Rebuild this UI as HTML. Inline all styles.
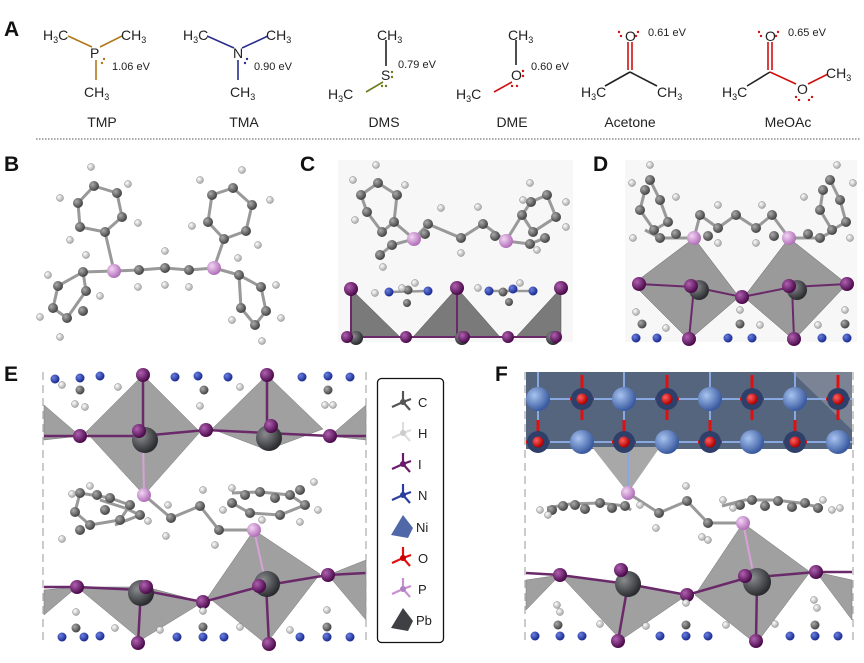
<!DOCTYPE html>
<html><head><meta charset="utf-8"><style>
html,body{margin:0;padding:0;background:#fff}
svg{display:block}
.t{font-family:"Liberation Sans",sans-serif;font-size:14px;fill:#222}
.s{font-family:"Liberation Sans",sans-serif;font-size:11px;fill:#222}
.L{font-family:"Liberation Sans",sans-serif;font-size:21px;font-weight:bold;fill:#111}
.lg{font-family:"Liberation Sans",sans-serif;font-size:13px;fill:#222}
</style></head><body>
<svg width="864" height="663" viewBox="0 0 864 663" xmlns="http://www.w3.org/2000/svg">
<defs>
<radialGradient id="gI" cx="35%" cy="35%" r="65%"><stop offset="0" stop-color="#b060b0"/><stop offset="1" stop-color="#4a0a4a"/></radialGradient>
<radialGradient id="gPb" cx="35%" cy="35%" r="65%"><stop offset="0" stop-color="#8a8c90"/><stop offset="1" stop-color="#2a2c30"/></radialGradient>
<radialGradient id="gC" cx="35%" cy="35%" r="65%"><stop offset="0" stop-color="#aaa"/><stop offset="1" stop-color="#444"/></radialGradient>
<radialGradient id="gH" cx="35%" cy="35%" r="65%"><stop offset="0" stop-color="#fff"/><stop offset="1" stop-color="#aaa"/></radialGradient>
<radialGradient id="gN" cx="35%" cy="35%" r="65%"><stop offset="0" stop-color="#6a80e0"/><stop offset="1" stop-color="#1a2a90"/></radialGradient>
<radialGradient id="gP" cx="35%" cy="35%" r="65%"><stop offset="0" stop-color="#f4d4f4"/><stop offset="1" stop-color="#b070b8"/></radialGradient>
<radialGradient id="gNi" cx="35%" cy="35%" r="65%"><stop offset="0" stop-color="#a8c4f0"/><stop offset="1" stop-color="#3a5aa0"/></radialGradient>
<radialGradient id="gO" cx="35%" cy="35%" r="65%"><stop offset="0" stop-color="#ff6060"/><stop offset="1" stop-color="#b00000"/></radialGradient>
</defs>

<!-- ===== Panel A ===== -->
<text class="L" x="4" y="36">A</text>
<g stroke-width="1.6" fill="none">
 <line x1="68" y1="36" x2="92" y2="47" stroke="#b07818"/><line x1="100" y1="47" x2="122" y2="36" stroke="#b07818"/><line x1="96" y1="60" x2="96" y2="80" stroke="#b07818"/>
 <line x1="207" y1="36" x2="234" y2="48" stroke="#2a2f8a"/><line x1="242" y1="48" x2="268" y2="36" stroke="#2a2f8a"/><line x1="238" y1="60" x2="238" y2="80" stroke="#2a2f8a"/>
 <line x1="386" y1="40" x2="386" y2="66" stroke="#222"/><line x1="383" y1="82" x2="366" y2="92" stroke="#6a7a18"/>
 <line x1="516" y1="40" x2="516" y2="65" stroke="#222"/><line x1="512" y1="82" x2="494" y2="92" stroke="#d01010"/>
 <line x1="628" y1="42" x2="628" y2="70" stroke="#d01010"/><line x1="632" y1="42" x2="632" y2="70" stroke="#d01010"/><line x1="630" y1="72" x2="605" y2="86" stroke="#222"/><line x1="630" y1="72" x2="657" y2="86" stroke="#222"/>
 <line x1="768" y1="42" x2="768" y2="70" stroke="#d01010"/><line x1="772" y1="42" x2="772" y2="70" stroke="#d01010"/><line x1="770" y1="72" x2="747" y2="86" stroke="#222"/><line x1="770" y1="72" x2="796" y2="84" stroke="#d01010"/><line x1="808" y1="84" x2="828" y2="74" stroke="#d01010"/>
</g>
<text class="t" x="43" y="40">H<tspan font-size="9" dy="3">3</tspan><tspan dy="-3">C</tspan></text>
<text class="t" x="121" y="40">CH<tspan font-size="9" dy="3">3</tspan></text>
<text class="t" x="90" y="58" fill="#b07818">P</text>
<text class="t" x="84" y="97">CH<tspan font-size="9" dy="3">3</tspan></text>
<text class="s" x="112" y="70">1.06 eV</text>
<g fill="#b07818"><circle cx="102" cy="63" r="1.2"/><circle cx="104" cy="59" r="1.2"/></g>

<text class="t" x="183" y="40">H<tspan font-size="9" dy="3">3</tspan><tspan dy="-3">C</tspan></text>
<text class="t" x="266" y="40">CH<tspan font-size="9" dy="3">3</tspan></text>
<text class="t" x="233" y="58" fill="#2a2f8a">N</text>
<text class="t" x="230" y="97">CH<tspan font-size="9" dy="3">3</tspan></text>
<text class="s" x="254" y="70">0.90 eV</text>
<g fill="#2a2f8a"><circle cx="245" cy="63" r="1.2"/><circle cx="247" cy="59" r="1.2"/></g>

<text class="t" x="377" y="40">CH<tspan font-size="9" dy="3">3</tspan></text>
<text class="t" x="381" y="80" fill="#6a7a18">S</text>
<text class="t" x="328" y="99">H<tspan font-size="9" dy="3">3</tspan><tspan dy="-3">C</tspan></text>
<text class="s" x="398" y="68">0.79 eV</text>
<g fill="#6a7a18"><circle cx="392" cy="72" r="1.2"/><circle cx="392" cy="77" r="1.2"/><circle cx="382" cy="86" r="1.2"/><circle cx="386" cy="86" r="1.2"/></g>

<text class="t" x="508" y="40">CH<tspan font-size="9" dy="3">3</tspan></text>
<text class="t" x="511" y="80" fill="#d01010">O</text>
<text class="t" x="456" y="99">H<tspan font-size="9" dy="3">3</tspan><tspan dy="-3">C</tspan></text>
<text class="s" x="531" y="70">0.60 eV</text>
<g fill="#d01010"><circle cx="523" cy="71" r="1.2"/><circle cx="523" cy="76" r="1.2"/><circle cx="512" cy="86" r="1.2"/><circle cx="517" cy="86" r="1.2"/></g>

<text class="t" x="625" y="41" fill="#d01010">O</text>
<g fill="#d01010"><circle cx="619" cy="32" r="1.2"/><circle cx="621" cy="36" r="1.2"/><circle cx="638" cy="32" r="1.2"/><circle cx="636" cy="36" r="1.2"/></g>
<text class="s" x="648" y="36">0.61 eV</text>
<text class="t" x="581" y="97">H<tspan font-size="9" dy="3">3</tspan><tspan dy="-3">C</tspan></text>
<text class="t" x="657" y="97">CH<tspan font-size="9" dy="3">3</tspan></text>

<text class="t" x="765" y="41" fill="#d01010">O</text>
<g fill="#d01010"><circle cx="759" cy="32" r="1.2"/><circle cx="761" cy="36" r="1.2"/><circle cx="778" cy="32" r="1.2"/><circle cx="776" cy="36" r="1.2"/></g>
<text class="s" x="788" y="36">0.65 eV</text>
<text class="t" x="722" y="97">H<tspan font-size="9" dy="3">3</tspan><tspan dy="-3">C</tspan></text>
<text class="t" x="797" y="94" fill="#d01010">O</text>
<g fill="#d01010"><circle cx="796" cy="97" r="1.2"/><circle cx="799" cy="100" r="1.2"/><circle cx="812" cy="97" r="1.2"/><circle cx="809" cy="100" r="1.2"/></g>
<text class="t" x="826" y="78">CH<tspan font-size="9" dy="3">3</tspan></text>

<g class="t" text-anchor="middle" font-size="13">
<text class="t" x="102" y="127" text-anchor="middle">TMP</text>
<text class="t" x="244" y="127" text-anchor="middle">TMA</text>
<text class="t" x="384" y="127" text-anchor="middle">DMS</text>
<text class="t" x="512" y="127" text-anchor="middle">DME</text>
<text class="t" x="630" y="127" text-anchor="middle">Acetone</text>
<text class="t" x="788" y="127" text-anchor="middle">MeOAc</text>
</g>
<line x1="36" y1="139" x2="861" y2="139" stroke="#555" stroke-width="1" stroke-dasharray="1.5,1.5"/>

<!-- ===== Panel B ===== -->
<text class="L" x="4" y="171">B</text>
<g stroke="#999" stroke-width="3" fill="none">
<polyline points="94,186 117,193 122,217 105,232 80,227 78,203 94,186"/>
<polyline points="233,188 252,205 246,231 224,239 208,222 212,195 233,188"/>
<polyline points="83,272 86,291 67,318 53,308 58,286 83,272"/>
<polyline points="239,275 261,287 266,311 255,325 241,308 239,275"/>
<polyline points="105,232 114,271 139,270 165,268 189,270 214,268 224,239"/>
<polyline points="114,271 83,272"/><polyline points="214,268 239,275"/>
</g>
<g fill="url(#gC)">
<circle cx="94" cy="186" r="5"/><circle cx="117" cy="193" r="5"/><circle cx="122" cy="217" r="5"/><circle cx="105" cy="232" r="5"/><circle cx="80" cy="227" r="5"/><circle cx="78" cy="203" r="5"/>
<circle cx="233" cy="188" r="5"/><circle cx="252" cy="205" r="5"/><circle cx="246" cy="231" r="5"/><circle cx="224" cy="239" r="5"/><circle cx="208" cy="222" r="5"/><circle cx="212" cy="195" r="5"/>
<circle cx="83" cy="272" r="5"/><circle cx="86" cy="291" r="5"/><circle cx="67" cy="318" r="5"/><circle cx="53" cy="308" r="5"/><circle cx="58" cy="286" r="5"/><circle cx="83" cy="311" r="5"/>
<circle cx="239" cy="275" r="5"/><circle cx="261" cy="287" r="5"/><circle cx="266" cy="311" r="5"/><circle cx="255" cy="325" r="5"/><circle cx="241" cy="308" r="5"/>
<circle cx="139" cy="270" r="5"/><circle cx="165" cy="268" r="5"/><circle cx="189" cy="270" r="5"/>
</g>
<g fill="url(#gP)"><circle cx="114" cy="271" r="7"/><circle cx="214" cy="268" r="7"/></g>
<g fill="url(#gH)" stroke="#888" stroke-width="0.5">
<circle cx="91" cy="167" r="3.5"/><circle cx="128" cy="184" r="3.5"/><circle cx="138" cy="223" r="3.5"/><circle cx="70" cy="240" r="3.5"/><circle cx="60" cy="198" r="3.5"/>
<circle cx="242" cy="170" r="3.5"/><circle cx="270" cy="200" r="3.5"/><circle cx="258" cy="245" r="3.5"/><circle cx="192" cy="226" r="3.5"/><circle cx="200" cy="180" r="3.5"/>
<circle cx="86" cy="255" r="3.5"/><circle cx="100" cy="296" r="3.5"/><circle cx="60" cy="337" r="3.5"/><circle cx="40" cy="317" r="3.5"/><circle cx="48" cy="275" r="3.5"/>
<circle cx="238" cy="258" r="3.5"/><circle cx="276" cy="285" r="3.5"/><circle cx="281" cy="318" r="3.5"/><circle cx="262" cy="341" r="3.5"/><circle cx="232" cy="320" r="3.5"/>
<circle cx="138" cy="287" r="3.5"/><circle cx="165" cy="251" r="3.5"/><circle cx="165" cy="285" r="3.5"/><circle cx="189" cy="287" r="3.5"/>
</g>

<!-- ===== Panel C ===== -->
<text class="L" x="300" y="171">C</text>
<rect x="338" y="160" width="235" height="182" fill="#f7f7f7"/>
<g fill="#7a7a7a" stroke="#555" stroke-width="0.5">
<polygon points="351,289 400,337 351,337"/><polygon points="457,288 413,337 500,337"/><polygon points="561,288 516,337 561,337"/>
</g>
<g stroke="#6a2a6a" stroke-width="2"><line x1="351" y1="289" x2="351" y2="337"/><line x1="457" y1="288" x2="457" y2="337"/><line x1="347" y1="337" x2="560" y2="337"/></g>
<g fill="url(#gPb)"><circle cx="356" cy="338" r="7"/><circle cx="462" cy="338" r="7"/><circle cx="553" cy="338" r="7"/></g>
<g fill="url(#gI)"><circle cx="351" cy="289" r="7"/><circle cx="457" cy="288" r="7"/><circle cx="561" cy="288" r="7"/>
<circle cx="347" cy="337" r="6"/><circle cx="406" cy="337" r="6"/><circle cx="464" cy="337" r="6"/><circle cx="508" cy="337" r="6"/><circle cx="556" cy="337" r="6"/></g>
<g stroke="#999" stroke-width="2.5"><line x1="389" y1="292" x2="428" y2="291"/><line x1="489" y1="291" x2="533" y2="291"/></g>
<g fill="url(#gN)"><circle cx="389" cy="292" r="4.5"/><circle cx="428" cy="291" r="4.5"/><circle cx="489" cy="291" r="4.5"/><circle cx="513" cy="289" r="4.5"/><circle cx="533" cy="291" r="4.5"/></g>
<g fill="url(#gC)"><circle cx="408" cy="290" r="4.5"/><circle cx="407" cy="303" r="4"/><circle cx="503" cy="292" r="4.5"/><circle cx="509" cy="302" r="4"/></g>
<g stroke="#999" stroke-width="3" fill="none">
<polyline points="378,183 397,195 394,222 382,232 367,212 361,195 378,183"/>
<polyline points="547,195 556,217 533,232 522,215 531,202 547,195"/>
<polyline points="394,222 414,239 428,224 461,238 483,224 506,241 522,215"/>
<polyline points="414,239 392,245 380,255"/><polyline points="506,241 530,244 545,238"/>
</g>
<g fill="url(#gC)">
<circle cx="378" cy="183" r="5"/><circle cx="397" cy="195" r="5"/><circle cx="394" cy="222" r="5"/><circle cx="382" cy="232" r="5"/><circle cx="367" cy="212" r="5"/><circle cx="361" cy="195" r="5"/>
<circle cx="547" cy="195" r="5"/><circle cx="556" cy="217" r="5"/><circle cx="533" cy="232" r="5"/><circle cx="522" cy="215" r="5"/><circle cx="531" cy="202" r="5"/>
<circle cx="428" cy="224" r="5"/><circle cx="461" cy="238" r="5"/><circle cx="483" cy="224" r="5"/>
<circle cx="392" cy="245" r="5"/><circle cx="380" cy="255" r="5"/><circle cx="425" cy="234" r="5"/><circle cx="530" cy="244" r="5"/><circle cx="545" cy="238" r="5"/><circle cx="495" cy="236" r="5"/>
</g>
<g fill="url(#gP)"><circle cx="414" cy="239" r="7"/><circle cx="506" cy="241" r="7"/></g>
<g fill="url(#gH)" stroke="#888" stroke-width="0.5">
<circle cx="376" cy="165" r="3.5"/><circle cx="353" cy="180" r="3.5"/><circle cx="405" cy="185" r="3.5"/><circle cx="355" cy="220" r="3.5"/><circle cx="441" cy="208" r="3.5"/><circle cx="478" cy="207" r="3.5"/><circle cx="461" cy="253" r="3.5"/>
<circle cx="530" cy="183" r="3.5"/><circle cx="566" cy="202" r="3.5"/><circle cx="566" cy="227" r="3.5"/><circle cx="537" cy="250" r="3.5"/><circle cx="383" cy="267" r="3.5"/><circle cx="523" cy="200" r="3.5"/><circle cx="402" cy="288" r="3.5"/><circle cx="415" cy="283" r="3.5"/><circle cx="478" cy="288" r="3.5"/><circle cx="520" cy="283" r="3.5"/><circle cx="375" cy="293" r="3.5"/>
</g>

<!-- ===== Panel D ===== -->
<text class="L" x="593" y="171">D</text>
<rect x="625" y="160" width="232" height="182" fill="#f7f7f7"/>
<g fill="#9a9a9a" stroke="#666" stroke-width="0.5">
<polygon points="694,238 633,284 689,340 739,297"/><polygon points="789,238 744,297 794,340 847,284"/>
</g>
<g stroke="#6a2a6a" stroke-width="2"><polyline points="639,284 694,287 742,297 792,287 847,284" fill="none"/><line x1="694" y1="287" x2="689" y2="339"/><line x1="792" y1="287" x2="794" y2="339"/></g>
<g fill="url(#gPb)"><circle cx="699" cy="290" r="10"/><circle cx="797" cy="290" r="10"/></g>
<g fill="url(#gI)"><circle cx="639" cy="284" r="7"/><circle cx="691" cy="286" r="7"/><circle cx="742" cy="297" r="7"/><circle cx="789" cy="286" r="7"/><circle cx="847" cy="284" r="7"/><circle cx="689" cy="339" r="7"/><circle cx="794" cy="339" r="7"/></g>
<g fill="url(#gN)"><circle cx="636" cy="338" r="4.5"/><circle cx="657" cy="338" r="4.5"/><circle cx="728" cy="338" r="4.5"/><circle cx="752" cy="338" r="4.5"/><circle cx="822" cy="338" r="4.5"/><circle cx="847" cy="338" r="4.5"/></g>
<g fill="url(#gC)"><circle cx="642" cy="324" r="4.5"/><circle cx="740" cy="324" r="4.5"/><circle cx="845" cy="324" r="4.5"/></g>
<g stroke="#999" stroke-width="3" fill="none">
<polyline points="650,180 660,200 668,222 654,230 640,210 645,190"/>
<polyline points="830,180 840,200 846,222 832,230 820,210 823,190"/>
<polyline points="694,238 700,215 718,228 736,215 756,228 772,215 789,238"/>
<polyline points="694,238 660,238 645,230"/><polyline points="789,238 820,238 835,230"/>
</g>
<g fill="url(#gC)">
<circle cx="650" cy="180" r="5"/><circle cx="660" cy="200" r="5"/><circle cx="668" cy="222" r="5"/><circle cx="654" cy="230" r="5"/><circle cx="640" cy="210" r="5"/><circle cx="645" cy="190" r="5"/>
<circle cx="830" cy="180" r="5"/><circle cx="840" cy="200" r="5"/><circle cx="846" cy="222" r="5"/><circle cx="832" cy="230" r="5"/><circle cx="820" cy="210" r="5"/><circle cx="823" cy="190" r="5"/>
<circle cx="700" cy="215" r="5"/><circle cx="718" cy="228" r="5"/><circle cx="736" cy="215" r="5"/><circle cx="756" cy="228" r="5"/><circle cx="772" cy="215" r="5"/>
<circle cx="660" cy="238" r="5"/><circle cx="676" cy="234" r="5"/><circle cx="708" cy="236" r="5"/><circle cx="774" cy="236" r="5"/><circle cx="808" cy="234" r="5"/><circle cx="820" cy="238" r="5"/>
</g>
<g fill="url(#gP)"><circle cx="694" cy="238" r="7"/><circle cx="789" cy="238" r="7"/></g>
<g fill="url(#gH)" stroke="#888" stroke-width="0.5">
<circle cx="650" cy="165" r="3.5"/><circle cx="632" cy="183" r="3.5"/><circle cx="676" cy="197" r="3.5"/><circle cx="633" cy="238" r="3.5"/><circle cx="718" cy="243" r="3.5"/><circle cx="718" cy="205" r="3.5"/>
<circle cx="837" cy="165" r="3.5"/><circle cx="853" cy="183" r="3.5"/><circle cx="804" cy="197" r="3.5"/><circle cx="850" cy="238" r="3.5"/><circle cx="756" cy="243" r="3.5"/><circle cx="762" cy="205" r="3.5"/>
<circle cx="636" cy="312" r="3.5"/><circle cx="740" cy="310" r="3.5"/><circle cx="845" cy="310" r="3.5"/><circle cx="666" cy="328" r="3.5"/><circle cx="760" cy="325" r="3.5"/><circle cx="818" cy="325" r="3.5"/>
</g>

<!-- ===== Panel E ===== -->
<text class="L" x="4" y="381">E</text>
<g fill="#a0a0a0" stroke="#777" stroke-width="0.5">
<polygon points="143,375 86,432 144,495 200,432"/>
<polygon points="267,375 212,429 267,450 323,429"/>
<polygon points="44,405 80,436 44,440"/><polygon points="366,405 330,436 366,440"/>
<polygon points="254,530 208,597 266,644 320,574"/>
<polygon points="77,587 141,640 203,602 146,587"/>
<polygon points="44,590 77,587 44,615"/><polygon points="366,560 328,575 366,620"/>
</g>
<g stroke="#6a2a6a" stroke-width="2.5" fill="none">
<polyline points="44,436 80,436 141,436 206,430 267,433 330,436 366,436"/>
<polyline points="44,587 77,587 141,590 203,602 262,586 328,575 366,573"/>
<line x1="143" y1="375" x2="143" y2="437"/><line x1="267" y1="375" x2="267" y2="437"/>
<line x1="141" y1="590" x2="138" y2="643"/><line x1="266" y1="584" x2="269" y2="644"/>
</g>
<g stroke="#d8a0d8" stroke-width="2"><line x1="143" y1="440" x2="144" y2="495"/><line x1="254" y1="530" x2="266" y2="584"/></g>
<g fill="url(#gPb)"><circle cx="145" cy="440" r="13"/><circle cx="269" cy="438" r="13"/><circle cx="141" cy="593" r="13"/><circle cx="267" cy="584" r="13"/></g>
<g fill="url(#gI)"><circle cx="143" cy="375" r="7"/><circle cx="267" cy="375" r="7"/>
<circle cx="80" cy="436" r="7"/><circle cx="139" cy="431" r="7"/><circle cx="206" cy="430" r="7"/><circle cx="271" cy="426" r="7"/><circle cx="330" cy="436" r="7"/>
<circle cx="77" cy="587" r="7"/><circle cx="146" cy="587" r="7"/><circle cx="203" cy="602" r="7"/><circle cx="259" cy="586" r="7"/><circle cx="328" cy="575" r="7"/>
<circle cx="138" cy="643" r="7"/><circle cx="269" cy="644" r="7"/></g>
<g fill="url(#gN)">
<circle cx="55" cy="379" r="4.5"/><circle cx="80" cy="378" r="4.5"/><circle cx="100" cy="376" r="4.5"/><circle cx="175" cy="377" r="4.5"/><circle cx="198" cy="376" r="4.5"/><circle cx="228" cy="377" r="4.5"/><circle cx="302" cy="377" r="4.5"/><circle cx="328" cy="376" r="4.5"/><circle cx="350" cy="377" r="4.5"/>
<circle cx="62" cy="637" r="4.5"/><circle cx="84" cy="637" r="4.5"/><circle cx="100" cy="636" r="4.5"/><circle cx="177" cy="637" r="4.5"/><circle cx="203" cy="637" r="4.5"/><circle cx="224" cy="637" r="4.5"/><circle cx="300" cy="637" r="4.5"/><circle cx="327" cy="637" r="4.5"/><circle cx="350" cy="637" r="4.5"/>
</g>
<g fill="url(#gC)"><circle cx="80" cy="390" r="4.5"/><circle cx="204" cy="390" r="4.5"/><circle cx="328" cy="390" r="4.5"/><circle cx="76" cy="628" r="4.5"/><circle cx="203" cy="627" r="4.5"/><circle cx="327" cy="627" r="4.5"/></g>
<g stroke="#999" stroke-width="3" fill="none">
<polyline points="80,493 110,498 130,505 120,520 90,525 75,512 80,493"/>
<polyline points="100,500 125,508 140,515 115,525"/>
<polyline points="144,495 171,518 200,506 219,530 254,530"/>
<polyline points="232,493 260,492 290,495 305,505 280,515 250,513 232,503"/>
</g>
<g fill="url(#gC)">
<circle cx="80" cy="493" r="5"/><circle cx="97" cy="495" r="5"/><circle cx="110" cy="498" r="5"/><circle cx="130" cy="505" r="5"/><circle cx="120" cy="520" r="5"/><circle cx="90" cy="525" r="5"/><circle cx="75" cy="512" r="5"/><circle cx="105" cy="510" r="5"/><circle cx="140" cy="515" r="5"/><circle cx="80" cy="530" r="5"/>
<circle cx="171" cy="518" r="5"/><circle cx="200" cy="506" r="5"/><circle cx="219" cy="530" r="5"/>
<circle cx="232" cy="503" r="5"/><circle cx="245" cy="495" r="5"/><circle cx="260" cy="492" r="5"/><circle cx="275" cy="498" r="5"/><circle cx="290" cy="495" r="5"/><circle cx="305" cy="505" r="5"/><circle cx="280" cy="515" r="5"/><circle cx="250" cy="513" r="5"/><circle cx="300" cy="490" r="5"/>
</g>
<g fill="url(#gP)"><circle cx="144" cy="495" r="7"/><circle cx="254" cy="530" r="7"/></g>
<g fill="url(#gH)" stroke="#888" stroke-width="0.5">
<circle cx="72" cy="494" r="3.5"/><circle cx="90" cy="486" r="3.5"/><circle cx="62" cy="539" r="3.5"/><circle cx="148" cy="521" r="3.5"/><circle cx="166" cy="536" r="3.5"/><circle cx="203" cy="490" r="3.5"/><circle cx="215" cy="545" r="3.5"/><circle cx="168" cy="505" r="3.5"/>
<circle cx="232" cy="488" r="3.5"/><circle cx="223" cy="510" r="3.5"/><circle cx="314" cy="482" r="3.5"/><circle cx="318" cy="510" r="3.5"/><circle cx="300" cy="522" r="3.5"/><circle cx="262" cy="520" r="3.5"/>
<circle cx="75" cy="404" r="3.5"/><circle cx="85" cy="407" r="3.5"/><circle cx="200" cy="406" r="3.5"/><circle cx="325" cy="405" r="3.5"/><circle cx="333" cy="405" r="3.5"/><circle cx="118" cy="387" r="3.5"/><circle cx="240" cy="387" r="3.5"/><circle cx="62" cy="385" r="3.5"/>
<circle cx="76" cy="612" r="3.5"/><circle cx="203" cy="611" r="3.5"/><circle cx="327" cy="610" r="3.5"/><circle cx="115" cy="628" r="3.5"/><circle cx="240" cy="627" r="3.5"/><circle cx="160" cy="630" r="3.5"/><circle cx="290" cy="630" r="3.5"/>
</g>
<g stroke="#999" stroke-width="1" stroke-dasharray="8,5"><line x1="43" y1="372" x2="43" y2="645"/><line x1="366" y1="372" x2="366" y2="645"/></g>

<!-- Legend -->
<rect x="377.5" y="378.5" width="66" height="264" rx="4" fill="#fff" stroke="#111" stroke-width="1.3"/>
<g stroke-width="2.2" fill="none">
<g stroke="#555"><line x1="403" y1="391" x2="403" y2="402"/><line x1="403" y1="402" x2="392" y2="407"/><line x1="403" y1="402" x2="410" y2="410"/><line x1="403" y1="402" x2="411" y2="399"/></g>
<g stroke="#ddd"><line x1="403" y1="422" x2="403" y2="433"/><line x1="403" y1="433" x2="392" y2="438"/><line x1="403" y1="433" x2="410" y2="441"/><line x1="403" y1="433" x2="411" y2="430"/></g>
<g stroke="#6a1a6a"><line x1="403" y1="453" x2="403" y2="464"/><line x1="403" y1="464" x2="392" y2="469"/><line x1="403" y1="464" x2="410" y2="472"/><line x1="403" y1="464" x2="411" y2="461"/></g>
<g stroke="#2a3ea0"><line x1="403" y1="484" x2="403" y2="495"/><line x1="403" y1="495" x2="392" y2="500"/><line x1="403" y1="495" x2="410" y2="503"/><line x1="403" y1="495" x2="411" y2="492"/></g>
<g stroke="#e01010"><line x1="403" y1="547" x2="403" y2="558"/><line x1="403" y1="558" x2="392" y2="563"/><line x1="403" y1="558" x2="410" y2="566"/><line x1="403" y1="558" x2="411" y2="555"/></g>
<g stroke="#c890d0"><line x1="403" y1="578" x2="403" y2="589"/><line x1="403" y1="589" x2="392" y2="594"/><line x1="403" y1="589" x2="410" y2="597"/><line x1="403" y1="589" x2="411" y2="586"/></g>
</g>
<circle cx="403" cy="402" r="3" fill="#555"/><circle cx="403" cy="433" r="3" fill="#ccc"/><circle cx="403" cy="464" r="3" fill="#6a1a6a"/><circle cx="403" cy="495" r="3" fill="#2a3ea0"/><circle cx="403" cy="558" r="3" fill="#c00"/><circle cx="403" cy="589" r="3" fill="#b080c0"/>
<polygon points="403,515 391,535 408,538 413,528" fill="#5068a8"/>
<polygon points="403,608 391,628 408,631 413,621" fill="#3e4044"/>
<text class="lg" x="418" y="407">C</text><text class="lg" x="418" y="438">H</text><text class="lg" x="418" y="469">I</text><text class="lg" x="418" y="500">N</text>
<text class="lg" x="416" y="532">Ni</text><text class="lg" x="418" y="563">O</text><text class="lg" x="418" y="594">P</text><text class="lg" x="416" y="625">Pb</text>

<!-- ===== Panel F ===== -->
<text class="L" x="495" y="381">F</text>
<rect x="526" y="372" width="326" height="77" fill="#56657e"/>
<polygon points="792,372 852,372 852,430" fill="#7a8494"/>
<polygon points="592,447 660,447 628,493" fill="#a8a8a8"/>
<g fill="#a0a0a0" stroke="#777" stroke-width="0.5">
<polygon points="743,523 695,595 756,644 810,572"/>
<polygon points="560,575 621,640 687,595 628,584"/>
<polygon points="526,580 560,575 526,610"/><polygon points="852,580 816,572 852,620"/>
</g>
<g stroke="#8aa8e0" stroke-width="2"><line x1="526" y1="399" x2="852" y2="399"/><line x1="526" y1="442" x2="852" y2="442"/>
<line x1="538" y1="372" x2="538" y2="449"/><line x1="624" y1="372" x2="624" y2="449"/><line x1="710" y1="372" x2="710" y2="449"/><line x1="795" y1="372" x2="795" y2="449"/><line x1="628" y1="449" x2="628" y2="493"/></g>
<g stroke="#e01010" stroke-width="3">
<line x1="570" y1="399" x2="594" y2="399"/><line x1="582" y1="375" x2="582" y2="420"/>
<line x1="655" y1="399" x2="679" y2="399"/><line x1="667" y1="375" x2="667" y2="420"/>
<line x1="740" y1="399" x2="764" y2="399"/><line x1="752" y1="375" x2="752" y2="420"/>
<line x1="826" y1="399" x2="850" y2="399"/><line x1="838" y1="375" x2="838" y2="420"/>
<line x1="526" y1="442" x2="550" y2="442"/><line x1="538" y1="420" x2="538" y2="442"/>
<line x1="612" y1="442" x2="636" y2="442"/><line x1="624" y1="420" x2="624" y2="442"/>
<line x1="698" y1="442" x2="722" y2="442"/><line x1="710" y1="420" x2="710" y2="442"/>
<line x1="783" y1="442" x2="807" y2="442"/><line x1="795" y1="420" x2="795" y2="442"/>
</g>
<g fill="#2e3f6a"><circle cx="582" cy="399" r="11"/><circle cx="667" cy="399" r="11"/><circle cx="752" cy="399" r="11"/><circle cx="838" cy="399" r="11"/><circle cx="538" cy="442" r="11"/><circle cx="624" cy="442" r="11"/><circle cx="710" cy="442" r="11"/><circle cx="795" cy="442" r="11"/></g>
<g fill="url(#gNi)"><circle cx="538" cy="399" r="12"/><circle cx="624" cy="399" r="12"/><circle cx="710" cy="399" r="12"/><circle cx="795" cy="399" r="12"/>
<circle cx="582" cy="442" r="12"/><circle cx="667" cy="442" r="12"/><circle cx="752" cy="442" r="12"/><circle cx="838" cy="442" r="12"/></g>
<g fill="url(#gO)"><circle cx="582" cy="399" r="5.5"/><circle cx="667" cy="399" r="5.5"/><circle cx="752" cy="399" r="5.5"/><circle cx="838" cy="399" r="5.5"/><circle cx="538" cy="442" r="5.5"/><circle cx="624" cy="442" r="5.5"/><circle cx="710" cy="442" r="5.5"/><circle cx="795" cy="442" r="5.5"/></g>
<g stroke="#6a2a6a" stroke-width="2.5" fill="none">
<polyline points="526,573 560,575 628,584 687,595 746,578 816,572 852,572"/>
<line x1="628" y1="584" x2="618" y2="641"/><line x1="757" y1="582" x2="756" y2="641"/>
</g>
<line x1="743" y1="523" x2="755" y2="582" stroke="#d8a0d8" stroke-width="2"/>
<g fill="url(#gPb)"><circle cx="628" cy="584" r="13"/><circle cx="757" cy="582" r="14"/></g>
<g fill="url(#gI)"><circle cx="560" cy="575" r="7"/><circle cx="621" cy="570" r="7"/><circle cx="687" cy="595" r="7"/><circle cx="745" cy="576" r="7"/><circle cx="816" cy="572" r="7"/><circle cx="618" cy="641" r="7"/><circle cx="756" cy="641" r="7"/></g>
<g fill="url(#gN)"><circle cx="535" cy="636" r="4.5"/><circle cx="560" cy="636" r="4.5"/><circle cx="582" cy="636" r="4.5"/><circle cx="660" cy="636" r="4.5"/><circle cx="686" cy="636" r="4.5"/><circle cx="708" cy="636" r="4.5"/><circle cx="790" cy="636" r="4.5"/><circle cx="815" cy="636" r="4.5"/><circle cx="838" cy="636" r="4.5"/></g>
<g fill="url(#gC)"><circle cx="558" cy="625" r="4.5"/><circle cx="686" cy="625" r="4.5"/><circle cx="815" cy="625" r="4.5"/></g>
<g stroke="#999" stroke-width="3" fill="none">
<polyline points="547,508 570,504 600,503 625,506 631,510"/>
<polyline points="628,493 659,513 687,501 708,523 743,523"/>
<polyline points="722,506 745,500 775,500 800,503 823,508"/>
</g>
<g fill="url(#gC)">
<circle cx="552" cy="510" r="5"/><circle cx="563" cy="506" r="5"/><circle cx="575" cy="505" r="5"/><circle cx="585" cy="509" r="5"/><circle cx="600" cy="503" r="5"/><circle cx="612" cy="508" r="5"/><circle cx="625" cy="506" r="5"/>
<circle cx="659" cy="513" r="5"/><circle cx="687" cy="501" r="5"/><circle cx="708" cy="523" r="5"/>
<circle cx="740" cy="505" r="5"/><circle cx="752" cy="500" r="5"/><circle cx="765" cy="506" r="5"/><circle cx="778" cy="501" r="5"/><circle cx="792" cy="507" r="5"/><circle cx="805" cy="503" r="5"/><circle cx="818" cy="508" r="5"/>
</g>
<g fill="url(#gP)"><circle cx="628" cy="493" r="7"/><circle cx="743" cy="523" r="7"/></g>
<g fill="url(#gH)" stroke="#888" stroke-width="0.5">
<circle cx="540" cy="510" r="3.5"/><circle cx="548" cy="515" r="3.5"/><circle cx="640" cy="505" r="3.5"/><circle cx="656" cy="528" r="3.5"/><circle cx="686" cy="486" r="3.5"/><circle cx="702" cy="537" r="3.5"/><circle cx="708" cy="540" r="3.5"/>
<circle cx="723" cy="500" r="3.5"/><circle cx="733" cy="508" r="3.5"/><circle cx="823" cy="500" r="3.5"/><circle cx="832" cy="510" r="3.5"/><circle cx="840" cy="508" r="3.5"/>
<circle cx="557" cy="605" r="3.5"/><circle cx="560" cy="612" r="3.5"/><circle cx="686" cy="603" r="3.5"/><circle cx="814" cy="600" r="3.5"/><circle cx="817" cy="608" r="3.5"/><circle cx="600" cy="624" r="3.5"/><circle cx="646" cy="626" r="3.5"/><circle cx="726" cy="625" r="3.5"/><circle cx="775" cy="624" r="3.5"/>
</g>
<g stroke="#999" stroke-width="1" stroke-dasharray="8,5"><line x1="525" y1="372" x2="525" y2="645"/><line x1="853" y1="372" x2="853" y2="645"/></g>
</svg>
</body></html>
